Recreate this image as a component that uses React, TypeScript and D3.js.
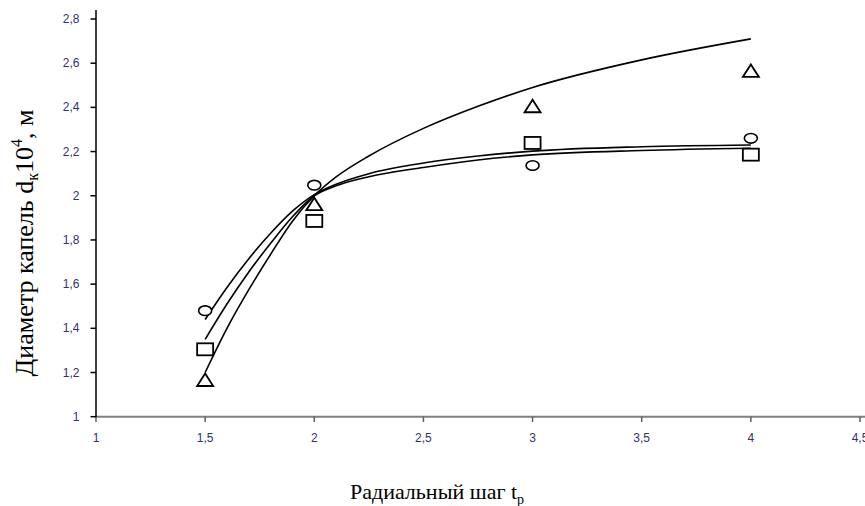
import React from "react";
import * as d3 from "d3";

const W = 865;
const H = 506;

// measured points
const pointX = [1.5, 2, 3, 4];
const circleValues = [1.48, 2.048, 2.137, 2.26];
const squareValues = [1.305, 1.886, 2.239, 2.186];
const triangleValues = [1.166, 1.962, 2.405, 2.565];

// fitted curves
const fitX = [1.5, 1.6, 1.7, 1.8, 1.9, 2.0, 2.1, 2.25, 2.5, 2.75, 3.0, 3.5, 4.0];
const circleFit = [1.44, 1.585, 1.715, 1.83, 1.93, 2.005, 2.052, 2.1, 2.148, 2.18, 2.202, 2.222, 2.23];
const squareFit = [1.35, 1.51, 1.655, 1.785, 1.905, 2.0, 2.045, 2.086, 2.128, 2.162, 2.185, 2.205, 2.215];
const triangleFit = [1.2, 1.4, 1.575, 1.735, 1.885, 2.0, 2.085, 2.18, 2.305, 2.405, 2.49, 2.615, 2.71];

const xTicks = [1, 1.5, 2, 2.5, 3, 3.5, 4, 4.5];
const yTicks = [1, 1.2, 1.4, 1.6, 1.8, 2, 2.2, 2.4, 2.6, 2.8];

const fmt = (v: number) => String(+v.toFixed(1)).replace(".", ",");

export default function App() {
  const x = d3.scaleLinear().domain([1, 4.5]).range([96, 860]);
  const y = d3.scaleLinear().domain([1, 2.8]).range([416.7, 19]);

  const line = d3
    .line<number>()
    .x((_, i) => x(fitX[i]))
    .y((d) => y(d))
    .curve(d3.curveMonotoneX);

  const labelColor = "#33306e";
  const tickFont = "'Liberation Sans', Arial, sans-serif";
  const serif = "'Liberation Serif', 'Times New Roman', serif";

  return (
    <svg
      width={W}
      height={H}
      style={{ position: "absolute", left: 0, top: 0, background: "#fff" }}
    >
      {/* x axis */}
      <line x1={96} x2={865} y1={416.7} y2={416.7} stroke="#808080" strokeWidth={2} />
      {xTicks.map((t) => (
        <g key={"xt" + t}>
          <line x1={x(t)} x2={x(t)} y1={416.7} y2={422} stroke="#606060" strokeWidth={1.5} />
          <text
            x={x(t)}
            y={441.5}
            textAnchor="middle"
            fontFamily={tickFont}
            fontSize={12}
            fill={labelColor}
          >
            {fmt(t)}
          </text>
        </g>
      ))}
      {/* y axis */}
      <line x1={96} x2={96} y1={10} y2={417} stroke="#000" strokeWidth={1.5} />
      {yTicks.map((t) => (
        <g key={"yt" + t}>
          <line x1={90.5} x2={96} y1={y(t)} y2={y(t)} stroke="#000" strokeWidth={1.5} />
          <text
            x={79.5}
            y={y(t) + 4}
            textAnchor="end"
            fontFamily={tickFont}
            fontSize={12}
            fill={labelColor}
          >
            {fmt(t)}
          </text>
        </g>
      ))}

      {/* fitted curves */}
      {[circleFit, squareFit, triangleFit].map((s, i) => (
        <path key={"c" + i} d={line(s) || ""} fill="none" stroke="#000" strokeWidth={1.6} />
      ))}

      {/* markers */}
      {circleValues.map((v, i) => (
        <ellipse
          key={"o" + i}
          cx={x(pointX[i])}
          cy={y(v)}
          rx={6.5}
          ry={4.8}
          fill="#fff"
          stroke="#000"
          strokeWidth={1.6}
        />
      ))}
      {squareValues.map((v, i) => (
        <rect
          key={"s" + i}
          x={x(pointX[i]) - 8}
          y={y(v) - 6}
          width={16}
          height={12}
          fill="#fff"
          stroke="#000"
          strokeWidth={1.8}
        />
      ))}
      {triangleValues.map((v, i) => {
        const cx = x(pointX[i]);
        const cy = y(v);
        const pts = `${cx - 8},${cy + 6} ${cx + 8},${cy + 6} ${cx},${cy - 6.5}`;
        return (
          <polygon
            key={"t" + i}
            points={pts}
            fill="#fff"
            stroke="#000"
            strokeWidth={1.8}
            strokeLinejoin="miter"
          />
        );
      })}

      {/* axis titles */}
      <text
        x={437}
        y={499}
        textAnchor="middle"
        fontFamily={serif}
        fontSize={22}
        fill="#000"
      >
        Радиальный шаг t
        <tspan fontSize={14} dy={5}>р</tspan>
      </text>
      <text
        transform="translate(33,243) rotate(-90)"
        textAnchor="middle"
        fontFamily={serif}
        fontSize={26}
        fill="#000"
      >
        Диаметр капель d
        <tspan fontSize={16} dy={5}>к</tspan>
        <tspan dy={-5}>10</tspan>
        <tspan fontSize={16} dy={-11}>4</tspan>
        <tspan dy={11}>, м</tspan>
      </text>
    </svg>
  );
}
